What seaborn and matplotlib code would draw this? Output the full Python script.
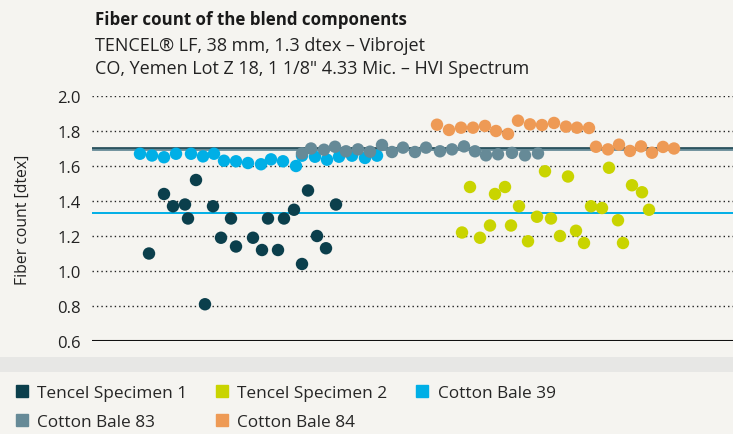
import matplotlib
matplotlib.use("Agg")
import matplotlib.pyplot as plt
from matplotlib.lines import Line2D
from matplotlib.patches import Rectangle
import seaborn as sns
import pandas as pd

# measurement positions along the (unlabelled) x axis, and fiber count in dtex
t1_pos = [57, 72, 81, 93, 96, 104, 113, 121, 129, 139, 144, 161, 170, 176, 186, 192, 202, 210, 216, 225, 234, 244]
t1_dtex = [1.10, 1.44, 1.37, 1.38, 1.30, 1.52, 0.81, 1.37, 1.19, 1.30, 1.14, 1.19, 1.12, 1.30, 1.12, 1.30,
           1.35, 1.04, 1.46, 1.20, 1.13, 1.38]

t2_pos = [370, 378, 388, 398, 403, 413, 419, 427, 436, 445, 453, 459, 468, 476, 484, 492, 499, 510, 517, 526,
          531, 540, 550, 557]
t2_dtex = [1.22, 1.48, 1.19, 1.26, 1.44, 1.48, 1.26, 1.37, 1.17, 1.31, 1.57, 1.30, 1.20, 1.54, 1.23, 1.16,
           1.37, 1.36, 1.59, 1.29, 1.16, 1.49, 1.45, 1.35]

c39_pos = [48, 60, 72, 84, 99, 111, 122, 132, 144, 156, 169, 179, 191, 204, 210, 223, 235, 247, 260, 273, 285]
c39_dtex = [1.67, 1.66, 1.65, 1.67, 1.67, 1.655, 1.67, 1.63, 1.627, 1.617, 1.61, 1.638, 1.627, 1.60, 1.659,
            1.653, 1.636, 1.653, 1.659, 1.646, 1.659]

c83_pos = [210, 219, 232, 243, 254, 266, 278, 290, 300, 311, 323, 334, 348, 360, 372, 383, 394, 406, 420, 433, 446]
c83_dtex = [1.672, 1.70, 1.693, 1.71, 1.684, 1.695, 1.682, 1.72, 1.68, 1.705, 1.68, 1.705, 1.684, 1.695,
            1.712, 1.684, 1.661, 1.667, 1.675, 1.661, 1.672]

c84_pos = [345, 357, 369, 381, 393, 404, 416, 426, 438, 450, 462, 474, 485, 497, 504, 516, 527, 538, 549, 560,
           571, 582]
c84_dtex = [1.836, 1.806, 1.819, 1.819, 1.829, 1.80, 1.783, 1.859, 1.838, 1.834, 1.846, 1.825, 1.819, 1.817,
            1.71, 1.695, 1.722, 1.686, 1.712, 1.676, 1.709, 1.70]

labels = ["Tencel Specimen 1", "Tencel Specimen 2", "Cotton Bale 39", "Cotton Bale 83", "Cotton Bale 84"]
colors = {"Tencel Specimen 1": "#0b3f4c", "Tencel Specimen 2": "#c9d400", "Cotton Bale 39": "#00afe6",
          "Cotton Bale 83": "#668a97", "Cotton Bale 84": "#ee9a55"}

# reference lines (mean levels)
ref_dark = 1.70
ref_cyan = 1.33
yticks = [0.6, 0.8, 1.0, 1.2, 1.4, 1.6, 1.8, 2.0]

bg = "#f5f4f0"
sns.set_style("white")
plt.rcParams["font.family"] = ["Open Sans", "DejaVu Sans"]
plt.rcParams["axes.unicode_minus"] = False

frames = []
for name, pos, val in zip(labels,
                          [t1_pos, t2_pos, c39_pos, c83_pos, c84_pos],
                          [t1_dtex, t2_dtex, c39_dtex, c83_dtex, c84_dtex]):
    frames.append(pd.DataFrame({"pos": pos, "dtex": val, "series": name}))
df = pd.concat(frames, ignore_index=True)

fig = plt.figure(figsize=(7.33, 4.35), dpi=100, facecolor=bg)
ax = fig.add_axes([92 / 733, 93 / 435, 641 / 733, 245 / 435])
ax.set_facecolor(bg)

# grey separator band between plot and legend
fig.patches.append(Rectangle((0, 62 / 435), 1, 15 / 435, transform=fig.transFigure,
                             facecolor="#e7e7e5", edgecolor="none", zorder=0))

for t in yticks[1:]:
    ax.axhline(t, color="#222222", lw=1.0, ls=(0, (1, 2.2)), zorder=0)
ax.axhline(yticks[0], color="#111111", lw=1.5, zorder=1)
ax.axhline(ref_dark - 0.004, color="#668a97", lw=2.0, zorder=1)
ax.axhline(ref_dark + 0.002, color="#1d4753", lw=1.2, zorder=1)
ax.axhline(ref_cyan, color="#00afe6", lw=1.4, zorder=1)

sns.scatterplot(data=df, x="pos", y="dtex", hue="series", hue_order=labels, palette=colors,
                s=80, linewidth=0, alpha=1, legend=False, ax=ax, zorder=3, clip_on=False)

ax.set_xlim(0, 641)
ax.set_ylim(0.6, 2.0)
ax.set_yticks(yticks)
ax.set_yticklabels([f"{t:.1f}" for t in yticks], fontsize=12, color="#222222")
ax.set_xticks([])
ax.tick_params(axis="y", length=0, pad=8)
ax.set_xlabel("")
ax.set_ylabel("Fiber count [dtex]", fontsize=11.3, color="#222222", labelpad=19)
for sp in ax.spines.values():
    sp.set_visible(False)

fig.text(95 / 733, 1 - 25 / 435, "Fiber count of the blend components", fontsize=12.2,
         fontweight="bold", color="#1a1a1a", va="baseline")
fig.text(95 / 733, 1 - 51 / 435, "TENCEL® LF, 38 mm, 1.3 dtex – Vibrojet", fontsize=13,
         color="#222222", va="baseline")
fig.text(95 / 733, 1 - 74 / 435, "CO, Yemen Lot Z 18, 1 1/8\" 4.33 Mic. – HVI Spectrum", fontsize=13,
         color="#222222", va="baseline")

# legend: filled in column order so rows read T1, T2, C39 / C83, C84
order = ["Tencel Specimen 1", "Cotton Bale 83", "Tencel Specimen 2", "Cotton Bale 84", "Cotton Bale 39"]
handles = [Line2D([], [], ls="none", marker="s", markersize=8.5, markerfacecolor=colors[n],
                  markeredgecolor=colors[n]) for n in order]
fig.legend(handles, order, loc="upper left", bbox_to_anchor=(15 / 733, 1 - 386 / 435), ncol=3,
           frameon=False, fontsize=12.4, handlelength=0.8, handletextpad=0.5, columnspacing=1.6,
           labelspacing=0.75, borderaxespad=0, borderpad=0)

fig.savefig("out.png", dpi=100, facecolor=bg)
